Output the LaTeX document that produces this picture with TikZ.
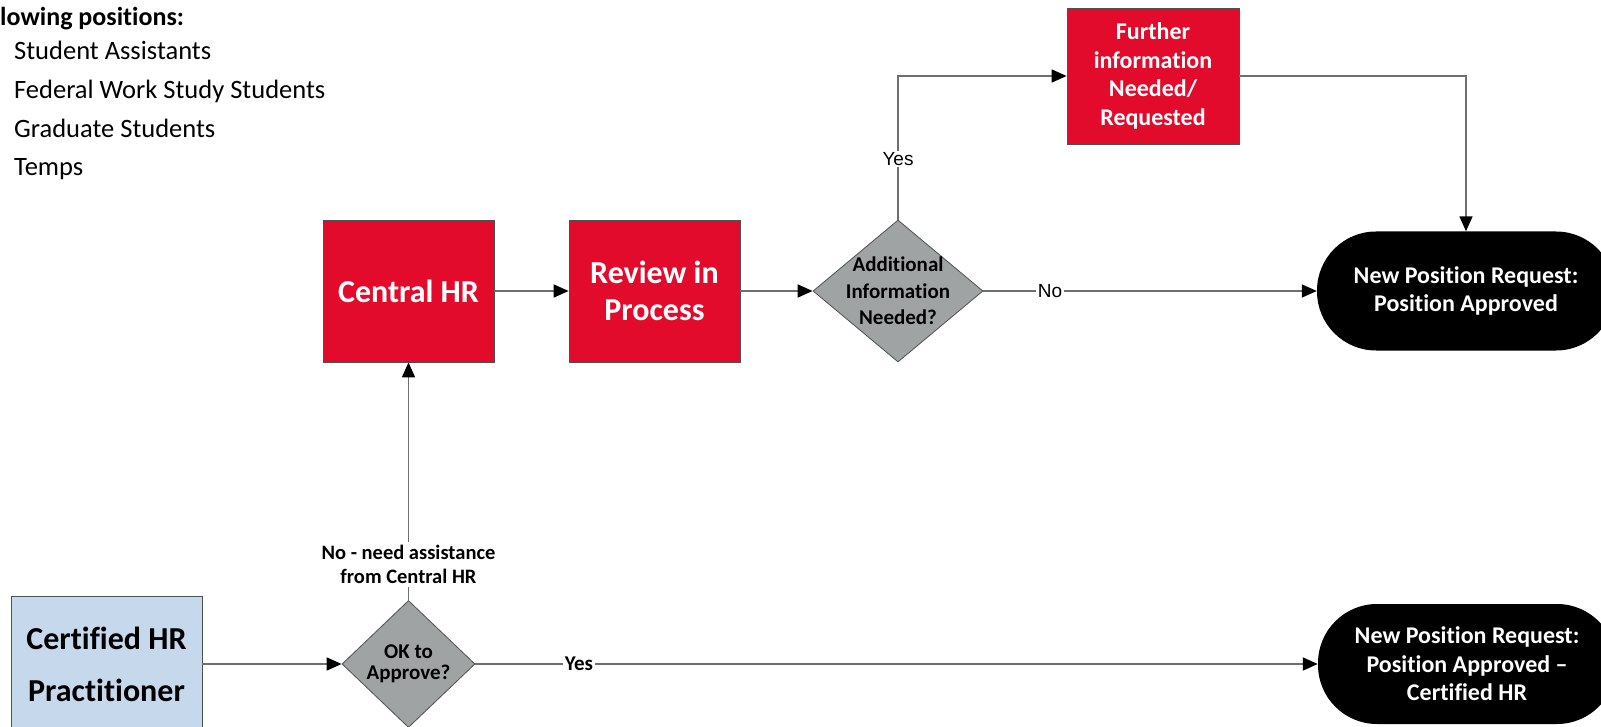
\documentclass[tikz,border=0pt]{standalone}
\usepackage{fontspec}
\setmainfont{Carlito}[Ligatures={TeX,NoCommon}]
\newfontfamily\arialf{Liberation Sans}
\usetikzlibrary{shapes.geometric,arrows.meta}
\definecolor{hrred}{RGB}{227,11,44}
\definecolor{dgray}{RGB}{160,163,163}
\definecolor{lblue}{RGB}{198,217,236}
\definecolor{linec}{RGB}{110,110,110}
\definecolor{borderc}{RGB}{80,80,80}
\begin{document}
\begin{tikzpicture}[x=1pt,y=-1pt,
  redbox/.style={rectangle, draw=borderc, line width=0.8pt, fill=hrred, text=white, align=center, inner sep=0pt, minimum width=171pt, minimum height=142pt},
  decision/.style={diamond, draw=borderc, line width=0.8pt, fill=dgray, inner sep=0pt},
  terminal/.style={rectangle, rounded corners=59pt, fill=black, text=white, align=center, inner sep=0pt, minimum width=298pt, minimum height=119pt, font=\bfseries\fontsize{24}{28.5}\selectfont},
  conn/.style={draw=linec, line width=1.6pt, -{Triangle[length=15pt,width=13pt,color=black]}},
  lbl/.style={fill=white, inner sep=1.5pt, text=black},
  listitem/.style={anchor=base west, inner sep=0pt, font=\fontsize{26.5}{30}\selectfont}
]
\useasboundingbox (0,0) rectangle (1601,727);
\clip (0,0) rectangle (1601,727);

% list at top left
\node[listitem, font=\bfseries\fontsize{26}{30}\selectfont] (hdr) at (0,26) {lowing positions:};
\node[listitem] (it1) at (14,60) {Student Assistants};
\node[listitem] (it2) at (14,99) {Federal Work Study Students};
\node[listitem] (it3) at (14,138) {Graduate Students};
\node[listitem] (it4) at (14,176) {Temps};

% boxes
\node[redbox, font=\bfseries\fontsize{32}{37}\selectfont] (central) at (408.5,291) {Central HR};
\node[redbox, font=\bfseries\fontsize{32}{37}\selectfont] (review) at (654.5,291) {Review in\\Process};
\node[redbox, minimum width=172pt, minimum height=136pt, font=\bfseries\fontsize{24}{28.5}\selectfont] (further) at (1153,76) {Further\\information\\Needed/\\Requested};

\node[decision, minimum width=170pt, minimum height=142pt,
  label={[align=center, font=\bfseries\fontsize{21}{26.5}\selectfont]center:{Additional\\Information\\Needed?}}] (addl) at (898,291) {};

\node[terminal] (term1) at (1466,291) {New Position Request:\\Position Approved};
\node[terminal, minimum height=120pt] (term2) at (1467,664) {New Position Request:\\Position Approved –\\Certified HR};

\node[rectangle, draw=borderc, line width=0.8pt, fill=lblue, minimum width=191pt, minimum height=136pt, inner sep=0pt, align=center, font=\bfseries\fontsize{32}{52}\selectfont] (cert) at (106.5,664) {Certified HR\\Practitioner};

\node[decision, minimum width=133pt, minimum height=127pt,
  label={[align=center, font=\bfseries\fontsize{21}{21}\selectfont]center:{OK to\\Approve?}}] (ok) at (408.5,664) {};

% connectors
\draw[conn] (cert) -- (ok);
\draw[conn] (ok) -- node[lbl, pos=0.15, align=center, inner sep=3pt, font=\bfseries\fontsize{20.5}{24}\selectfont] {No - need assistance\\from Central HR} (central);
\draw[conn] (ok) -- node[lbl, pos=0.123, font=\bfseries\fontsize{21}{24}\selectfont] {Yes} (term2);
\draw[conn] (central) -- (review);
\draw[conn] (review) -- (addl);
\draw[conn] (addl) -- node[lbl, pos=0.2, font=\arialf\fontsize{19}{22}\selectfont] {No} (term1);
\draw[conn] (addl.north) |- node[lbl, pos=0.21, font=\arialf\fontsize{19}{22}\selectfont] {Yes} (further.west);
\draw[conn] (further.east) -| (term1.north);
\end{tikzpicture}
\end{document}
